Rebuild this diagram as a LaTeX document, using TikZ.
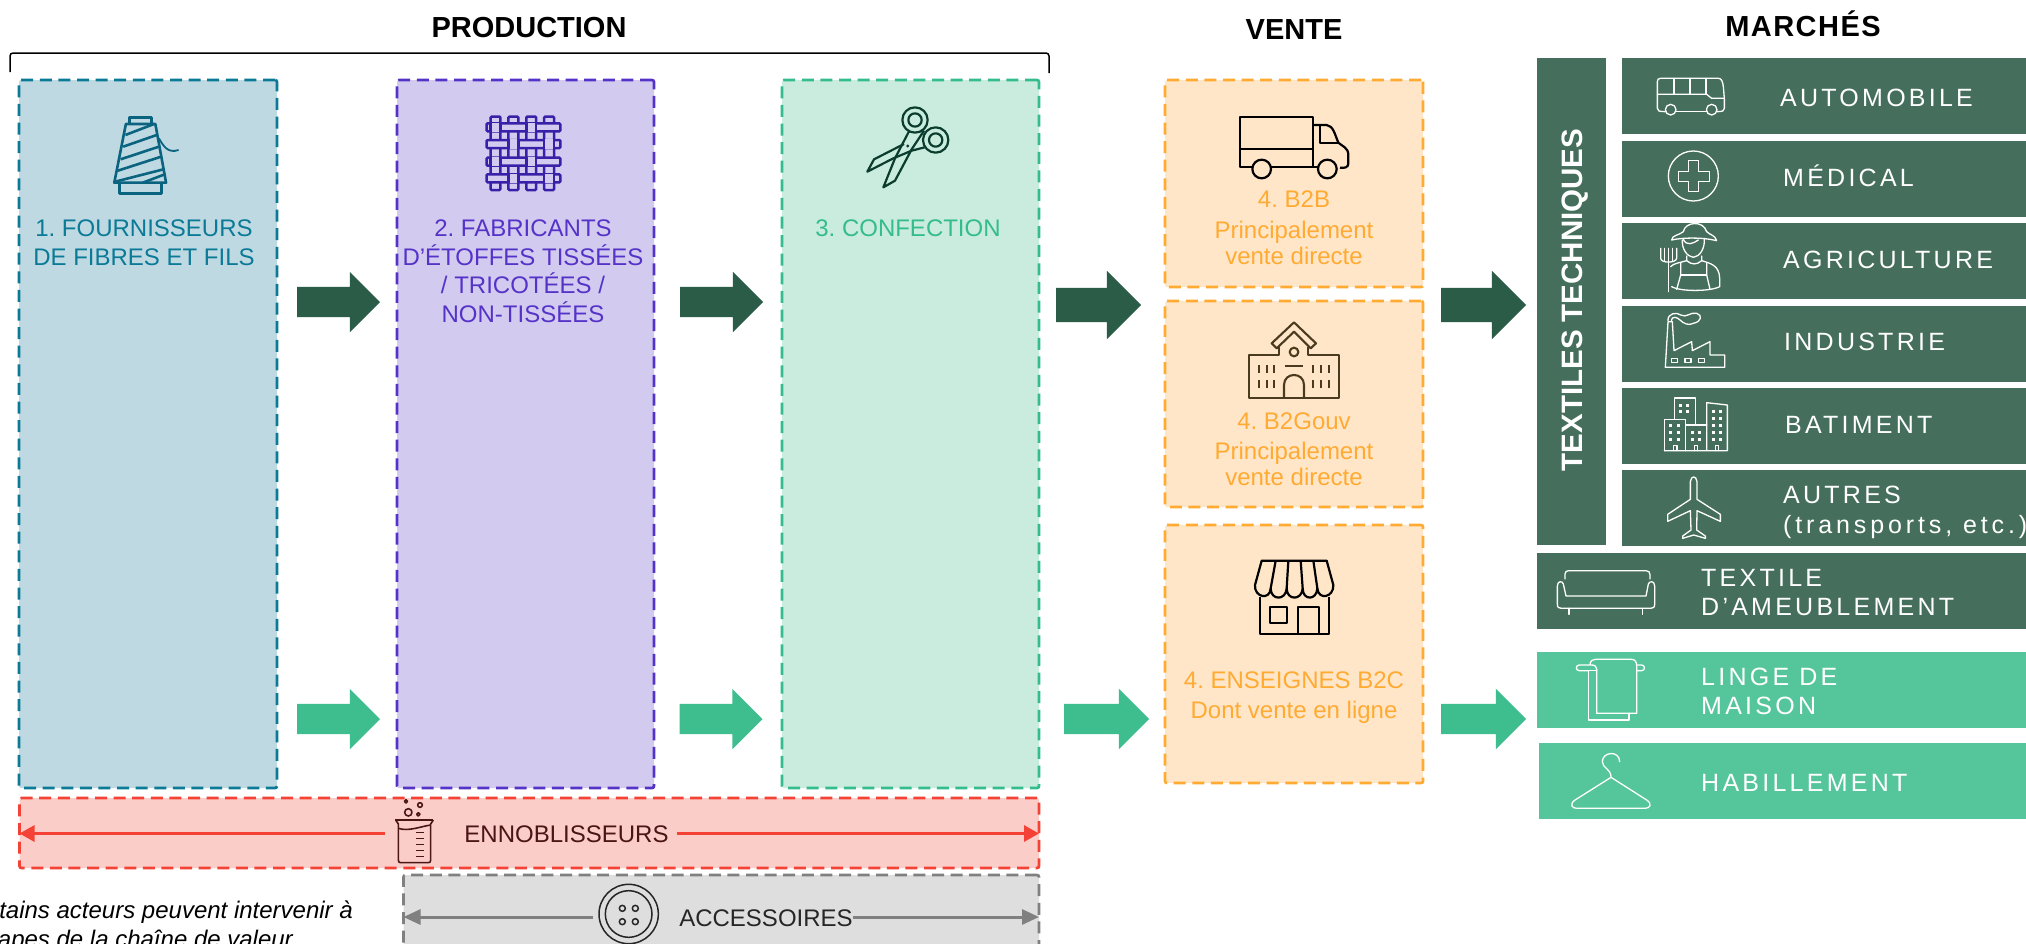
\documentclass[tikz,border=0pt]{standalone}
\usepackage{fontspec}
\setmainfont{Liberation Sans}
\newfontfamily\spaced[LetterSpace=13]{Liberation Sans}
\newfontfamily\spacedB[LetterSpace=15.5]{Liberation Sans}
\newfontfamily\headspaced[LetterSpace=5]{Liberation Sans}
\usetikzlibrary{shapes.arrows,arrows.meta}
\definecolor{blueF}{HTML}{BFD9E3}\definecolor{blueL}{HTML}{0B7A96}
\definecolor{purF}{HTML}{D3CBEF}\definecolor{purL}{HTML}{5533C8}
\definecolor{grnF}{HTML}{CAECDF}\definecolor{grnL}{HTML}{35BC8C}
\definecolor{orF}{HTML}{FFE6C8}\definecolor{orL}{HTML}{FFAB33}
\definecolor{redF}{HTML}{FBCDC9}\definecolor{redL}{HTML}{F44336}
\definecolor{gryF}{HTML}{DEDEDE}\definecolor{gryL}{HTML}{808080}
\definecolor{rowD}{HTML}{456F5C}\definecolor{rowL}{HTML}{55C69C}
\definecolor{arrD}{HTML}{2B5C47}\definecolor{arrL}{HTML}{3EBD8E}
\definecolor{spoolC}{HTML}{0A6480}\definecolor{weaveC}{HTML}{3A1FA8}
\definecolor{scisC}{HTML}{0B3D2E}\definecolor{schoolC}{HTML}{4A3A20}
\definecolor{redT}{HTML}{4A1515}
\frenchspacing
\newcommand\bx[6]{%
 \pgfmathsetmacro\bxw{#5-#3}\pgfmathsetmacro\bxh{#6-#4}%
 \pgfmathsetmacro\bxx{(#3+#5)/2}\pgfmathsetmacro\bxy{(#4+#6)/2}%
 \node[#2,minimum width=\bxw pt,minimum height=\bxh pt,inner sep=0pt,outer sep=0pt] (#1) at (\bxx,\bxy) {};}
\tikzset{
 dashbox/.style={draw=#1,line width=2.7pt,rounded corners=2pt,dash pattern=on 12pt off 6.6pt},
 fblue/.style={dashbox=blueL,fill=blueF},
 fpur/.style={dashbox=purL,fill=purF},
 fgrn/.style={dashbox=grnL,fill=grnF},
 fora/.style={dashbox=orL,fill=orF},
 fred/.style={dashbox=redL,fill=redF},
 fgry/.style={dashbox=gryL,fill=gryF},
 rowdark/.style={fill=rowD},
 rowlight/.style={fill=rowL},
 blockS/.style={single arrow,fill=#1,inner xsep=0pt,inner ysep=15pt,outer sep=0pt,single arrow head extend=15pt,single arrow tip angle=90,minimum height=83pt,anchor=tail},
 blockL/.style={single arrow,fill=#1,inner xsep=0pt,inner ysep=17pt,outer sep=0pt,single arrow head extend=17pt,single arrow tip angle=90,minimum height=85pt,anchor=tail},
 lbl/.style={font=\fontsize{24}{29}\selectfont,align=center,inner sep=0pt},
 head/.style={font=\fontsize{29}{34}\selectfont\bfseries,inner sep=0pt},
 rowtxt/.style={font=\fontsize{25}{29}\selectfont\spaced,text=white,align=left,inner sep=0pt,anchor=base west},
 crop/.style={shift={(#1)},x=0.33333pt,y=-0.33333pt},
 cropw/.style={shift={(#1)},x=0.44643pt,y=-0.33333pt},
 wic/.style={draw=white,line width=1.3pt,line join=round,line cap=round},
 kic/.style={draw=black,line width=2.2pt,line join=round},
}
\begin{document}
\begin{tikzpicture}[x=1pt,y=-1pt]
\useasboundingbox (0,0) rectangle (2026,943);
\fill[white] (0,0) rectangle (2026,943);
% headers
\node[head] (hprod) at (529,28) {PRODUCTION};
\node[head] (hvente) at (1294,30) {VENTE};
\node[head,font=\fontsize{29}{34}\selectfont\bfseries\headspaced] (hmarch) at (1803,24) {MARCHÉS};
\coordinate (brA) at (10,72); \coordinate (brB) at (10,53); \coordinate (brC) at (1049,53); \coordinate (brD) at (1049,73);
\draw[line width=1.5pt,rounded corners=3pt] (brA) -- (brB) -- (brC) -- (brD);
% main boxes
\bx{b1}{fblue}{19}{80}{277}{788}
\bx{b2}{fpur}{397}{80}{654}{788}
\bx{b3}{fgrn}{782}{80}{1039}{788}
\bx{s1}{fora}{1165}{80}{1423}{287}
\bx{s2}{fora}{1165}{301}{1423}{507}
\bx{s3}{fora}{1165}{525}{1423}{783}
\bx{ennob}{fred}{19.5}{798}{1039}{868}
\bx{acc}{fgry}{403.5}{875}{1039}{950}
% box text
\node[lbl,text=blueL,anchor=base] (t1) at (144,236) {1. FOURNISSEURS};
\node[lbl,text=blueL,anchor=base] (t1b) at (144,265.5) {DE FIBRES ET FILS};
\node[lbl,text=purL,anchor=base] (t2) at (523,236) {2. FABRICANTS};
\node[lbl,text=purL,anchor=base] (t2b) at (523,265.5) {D’ÉTOFFES TISSÉES};
\node[lbl,text=purL,anchor=base] (t2c) at (523,293.5) {/ TRICOTÉES /};
\node[lbl,text=purL,anchor=base] (t2d) at (523,322) {NON-TISSÉES};
\node[lbl,text=grnL,anchor=base] (t3) at (908,236) {3. CONFECTION};
\node[lbl,text=orL,anchor=base] (o1) at (1294,207.5) {4. B2B};
\node[lbl,text=orL,anchor=base] (o1b) at (1294,238.5) {Principalement};
\node[lbl,text=orL,anchor=base] (o1c) at (1294,264) {vente directe};
\node[lbl,text=orL,anchor=base] (o2) at (1294,429) {4. B2Gouv};
\node[lbl,text=orL,anchor=base] (o2b) at (1294,459) {Principalement};
\node[lbl,text=orL,anchor=base] (o2c) at (1294,485) {vente directe};
\node[lbl,text=orL,anchor=base] (o3) at (1294,688.5) {4. ENSEIGNES B2C};
\node[lbl,text=orL,anchor=base] (o3b) at (1294,718) {Dont vente en ligne};
% block arrows
\node[blockS=arrD] (ad1) at (297,302) {};
\node[blockS=arrD] (ad2) at (680,302) {};
\node[blockL=arrD] (ad3) at (1056,305) {};
\node[blockL=arrD] (ad4) at (1441,305) {};
\node[blockS=arrL] (al1) at (297,719) {};
\node[blockS=arrL] (al2) at (679.5,719) {};
\node[blockS=arrL,minimum height=85pt] (al3) at (1064,719) {};
\node[blockS=arrL,minimum height=85pt] (al4) at (1441,719) {};
% ennoblisseurs & accessoires
\node[lbl,text=redT,anchor=base] (tenn) at (566.5,842) {ENNOBLISSEURS};
\coordinate (beakL) at (385,833.5);
\draw[redL,line width=3pt,-{Triangle[length=15pt,width=16pt]}] (beakL) -- (beakL -| ennob.west);
\draw[redL,line width=3pt,-{Triangle[length=15pt,width=16pt]},shorten <=8pt] (tenn.east |- beakL) -- (beakL -| ennob.east);
\node[lbl,text=black!85,anchor=base] (tacc) at (766,926) {ACCESSOIRES};
\coordinate (butL) at (593,917);
\draw[gryL,line width=3pt,-{Triangle[length=17pt,width=15pt]}] (butL) -- (butL -| acc.west);
\draw[gryL,line width=3pt,-{Triangle[length=17pt,width=15pt]}] (tacc.east |- butL) -- (butL -| acc.east);
\node[lbl,font=\fontsize{24}{29}\selectfont\itshape,anchor=base east] (n1) at (353,918) {tains acteurs peuvent intervenir à};
\node[lbl,font=\fontsize{24}{29}\selectfont\itshape,anchor=base east] (n2) at (293,947) {apes de la chaîne de valeur};
% spool icon
\begin{scope}[cropw={0,0},draw=spoolC,line width=2.6pt,line join=round]
\draw (290,372) -- (290,352) -- (340,352) -- (340,372);
\draw (282,372) -- (348,372) -- (372,548) -- (256,548) -- cycle;
\draw (268,548) -- (268,580) -- (362,580) -- (362,548);
\draw (281,405) -- (345,372);
\draw (276,440) -- (351,405);
\draw (270,478) -- (356,440);
\draw (264,512) -- (361,470);
\draw (258,545) -- (366,508);
\draw (320,548) -- (371,522);
\draw[line width=1.8pt] (356,415) .. controls (365,435) and (375,462) .. (400,450);
\end{scope}
% weave icon
\begin{scope}[cropw={0,0},line width=2.5pt,draw=weaveC,fill=purF]
\foreach \vx in {1110,1150,1190,1230} \filldraw[rounded corners=1pt] ({\vx-11},350) rectangle ({\vx+11},570);
\foreach \hy in {382,432,485,535} \filldraw[rounded corners=1pt] (1090,{\hy-12}) rectangle (1255,{\hy+12});
\foreach \vx [count=\i] in {1110,1150,1190,1230} {
 \foreach \hy [count=\j] in {382,432,485,535} {
  \pgfmathparse{int(mod(\i+\j,2))}
  \ifnum\pgfmathresult=0
   \fill[purF] ({\vx-10},{\hy-14}) rectangle ({\vx+10},{\hy+14});
   \draw ({\vx-11},{\hy-14}) -- ({\vx-11},{\hy+14});
   \draw ({\vx+11},{\hy-14}) -- ({\vx+11},{\hy+14});
  \fi
 }
}
\end{scope}
% scissors
\begin{scope}[crop={780,60},draw=scisC,line width=2.2pt,line join=round]
\draw (405,180) circle[radius=38];
\draw (405,180) circle[radius=20];
\draw (467,240) circle[radius=38];
\draw (467,240) circle[radius=20];
\draw (388,212) -- (345,295) -- (310,382) -- (345,362) -- (395,268) -- (432,212);
\draw (434,262) -- (395,272) -- (340,295) -- (262,335) -- (282,298) -- (372,252);
\fill[scisC] (383,258) circle[radius=5];
\end{scope}
% truck
\begin{scope}[crop={1150,60},kic]
\draw[kic] (305,322) -- (270,322) -- (270,172) -- (488,172) -- (488,322);
\draw[kic] (270,266) -- (488,266);
\draw[kic] (364,322) -- (504,322);
\draw[kic] (335,327) circle[radius=28];
\draw[kic] (532,327) circle[radius=28];
\draw[kic] (488,195) -- (530,195) .. controls (550,197) and (555,225) .. (565,248) .. controls (575,258) and (595,262) .. (595,285) -- (595,310) .. controls (595,322) and (585,325) .. (570,323);
\draw[kic] (510,195) -- (510,248) -- (565,248);
\end{scope}
% school
\begin{scope}[crop={1150,60}]
\tikzset{sc/.style={draw=schoolC,line width=2.1pt,line join=round}}
\draw[sc] (365,850) -- (432,787) -- (498,850) -- (482,865) -- (432,815) -- (380,865) -- cycle;
\draw[sc] (388,860) -- (388,885) -- (296,885) -- (296,1015) -- (568,1015) -- (568,885) -- (475,885) -- (475,860);
\draw[sc] (432,876) circle[radius=13];
\draw[sc] (405,917) -- (458,917);
\draw[sc] (402,1015) -- (402,975) .. controls (402,935) and (462,935) .. (462,975) -- (462,1015);
\foreach \wx in {327,350,373,490,513,537} {
 \draw[sc] (\wx,915) -- (\wx,940);
 \draw[sc] (\wx,960) -- (\wx,985);
}
\end{scope}
% store
\begin{scope}[crop={1150,510}]
\draw[kic] (335,152) -- (530,152) -- (550,225) .. controls (552,262) and (505,272) .. (502,235) .. controls (500,272) and (458,272) .. (458,235) .. controls (456,272) and (410,272) .. (410,235) .. controls (408,272) and (362,272) .. (362,235) .. controls (360,272) and (312,262) .. (315,225) -- cycle;
\draw[kic] (377,152) -- (362,235); \draw[kic] (415,152) -- (410,235); \draw[kic] (452,152) -- (458,235); \draw[kic] (490,152) -- (502,235);
\draw[kic] (330,262) -- (330,372) -- (538,372) -- (538,262);
\draw[kic] (360,290) rectangle (412,340);
\draw[kic] (443,372) -- (443,290) -- (508,290) -- (508,372);
\end{scope}
% beaker and button
\begin{scope}[crop={280,640},draw=redT,line width=1.6pt,line join=round]
\draw (378,484) circle[radius=5]; \draw (420,495) circle[radius=7];
\draw (385,517) circle[radius=11]; \draw (415,523) circle[radius=5];
\draw (345,540) -- (460,540);
\draw (347,540) -- (355,552) -- (355,660) .. controls (355,666) and (358,668) .. (362,668) -- (445,668) .. controls (450,668) and (452,666) .. (452,660) -- (452,552) -- (460,540);
\draw (355,565) .. controls (385,575) and (420,560) .. (452,555);
\foreach \ty in {577,595,613,631,649} \draw (408,\ty) -- (433,\ty);
\end{scope}
\begin{scope}[crop={280,640},draw=black!85,line width=1.5pt]
\draw (1046,822) circle[radius=89];
\draw (1046,822) circle[radius=70];
\foreach \hx in {1027,1066} \foreach \hy in {805,845} \draw (\hx,\hy) circle[radius=9];
\end{scope}
% markets
\bx{tt}{rowdark}{1537}{58}{1606}{545}
\node[head,text=white,rotate=90,font=\fontsize{29.5}{34}\selectfont\bfseries] (ttt) at (1575,300) {TEXTILES TECHNIQUES};
\bx{r1}{rowdark}{1622}{58}{2026}{134}
\bx{r2}{rowdark}{1622}{141}{2026}{217}
\bx{r3}{rowdark}{1622}{223}{2026}{299}
\bx{r4}{rowdark}{1622}{306}{2026}{382}
\bx{r5}{rowdark}{1622}{388}{2026}{464}
\bx{r6}{rowdark}{1622}{470}{2026}{546}
\bx{r7}{rowdark}{1537}{553}{2026}{629}
\bx{r8}{rowlight}{1537}{652}{2026}{728}
\bx{r9}{rowlight}{1539}{743}{2026}{819}
\node[rowtxt] (l1) at (1780,106.5) {AUTOMOBILE};
\node[rowtxt] (l2) at (1783,186) {MÉDICAL};
\node[rowtxt] (l3) at (1783,268) {AGRICULTURE};
\node[rowtxt] (l4) at (1784,350) {INDUSTRIE};
\node[rowtxt] (l5) at (1785,433) {BATIMENT};
\node[rowtxt] (l6) at (1783,503) {AUTRES};
\node[rowtxt,font=\fontsize{25}{29}\selectfont\spacedB] (l6b) at (1783,533) {(transports, etc.)};
\node[rowtxt] (l7) at (1701,586) {TEXTILE};
\node[rowtxt] (l7b) at (1701,615) {D’AMEUBLEMENT};
\node[rowtxt] (l8) at (1701,685) {LINGE DE};
\node[rowtxt] (l8b) at (1701,714) {MAISON};
\node[rowtxt] (l9) at (1701,791) {HABILLEMENT};
% white icons, first crop
\begin{scope}[crop={1530,0}]
% bus
\draw[wic] (382,325) -- (382,245) .. controls (382,238) and (385,235) .. (392,235) -- (565,235) .. controls (575,235) and (578,245) .. (580,260) -- (583,295) -- (583,325) .. controls (583,332) and (578,335) .. (562,335);
\draw[wic] (382,325) .. controls (382,332) and (386,335) .. (406,335);
\draw[wic] (438,335) -- (529,335);
\draw[wic] (382,283) -- (530,283) -- (545,295) -- (583,295);
\foreach \bxv in {432,480,528} \draw[wic] (\bxv,235) -- (\bxv,283);
\draw[wic] (422,329) circle[radius=16]; \draw[wic] (545,329) circle[radius=16];
% medical
\draw[wic] (490,528) circle[radius=75];
\draw[wic] (475,482) -- (505,482) -- (505,515) -- (538,515) -- (538,545) -- (505,545) -- (505,575) -- (475,575) -- (475,545) -- (445,545) -- (445,515) -- (475,515) -- cycle;
% farmer
\draw[wic] (460,695) .. controls (465,665) and (520,660) .. (530,695);
\draw[wic] (460,695) .. controls (450,705) and (425,705) .. (425,720) .. controls (460,712) and (520,712) .. (560,722) .. controls (555,705) and (540,705) .. (530,695);
\draw[wic] (457,720) .. controls (455,745) and (470,770) .. (490,772) .. controls (510,770) and (525,745) .. (523,715);
\draw[wic] (460,718) .. controls (470,740) and (490,730) .. (505,720);
\draw[wic] (470,768) -- (470,782) .. controls (485,795) and (500,795) .. (515,782) -- (515,768);
\draw[wic] (470,782) .. controls (450,788) and (430,790) .. (422,800);
\draw[wic] (515,782) .. controls (540,790) and (568,795) .. (569,835) -- (569,860) .. controls (540,875) and (450,875) .. (425,860);
\draw[wic] (452,790) -- (452,825) -- (440,868);
\draw[wic] (530,790) -- (530,825) -- (540,868);
\draw[wic] (452,825) -- (530,825);
\draw[wic] (415,875) -- (415,745);
\draw[wic] (392,745) -- (392,775) .. controls (392,790) and (438,790) .. (440,775) -- (440,745);
\draw[wic] (403,745) -- (403,782); \draw[wic] (428,745) -- (428,782);
% factory
\draw[wic] (406,1102) -- (414,965) -- (427,965) -- (432,1052) -- (485,1025) -- (487,1052) -- (540,1025) -- (540,1065) -- (584,1065) -- (584,1102) -- cycle;
\draw[wic] (425,1075) rectangle (443,1087); \draw[wic] (465,1075) rectangle (483,1087); \draw[wic] (505,1075) rectangle (523,1087);
\draw[wic] (414,962) .. controls (412,940) and (440,935) .. (452,945) .. controls (470,955) and (480,935) .. (500,940) .. controls (518,945) and (515,965) .. (490,970) .. controls (475,978) and (460,970) .. (450,960) .. controls (440,950) and (425,948) .. (424,962);
\end{scope}
% white icons, second crop
\begin{scope}[crop={1530,380}]
% buildings
\draw[wic] (403,212) -- (403,118) -- (467,118) -- (467,212);
\draw[wic] (433,118) -- (433,54) -- (497,54) -- (497,135);
\draw[wic] (467,135) -- (530,135);
\draw[wic] (530,212) -- (530,68) -- (592,75) -- (592,212) -- (403,212);
\foreach \wx/\wy in {451/75,471/75,451/95,471/95,421/135,444/135,421/156,444/156,421/177,444/177,488/156,508/156,488/177,508/177,549/94,570/94,549/115,570/115,549/136,570/136,549/156,570/156,549/177,570/177}
 \fill[white] ({\wx-4},{\wy-4}) rectangle ({\wx+5},{\wy+5});
\foreach \wx in {436,498,561} \draw[wic] ({\wx-5},212) -- ({\wx-5},196) -- ({\wx+5},196) -- ({\wx+5},212);
% plane
\draw[wic] (481,358) -- (481,305) .. controls (483,286) and (499,286) .. (501,305) -- (501,358) -- (571,403) -- (571,424) -- (501,392) -- (500,450) -- (526,468) -- (526,475) -- (491,465) -- (458,475) -- (458,468) -- (483,450) -- (481,392) -- (413,424) -- (413,403) -- cycle;
% sofa
\draw[wic] (105,597) -- (105,582) .. controls (105,575) and (110,572) .. (116,572) -- (348,572) .. controls (356,572) and (360,577) .. (360,584) -- (360,597);
\draw[wic] (108,648) -- (100,612) .. controls (98,602) and (82,602) .. (82,618) -- (82,672) .. controls (82,682) and (86,685) .. (94,685) -- (362,685) .. controls (370,685) and (374,682) .. (374,672) -- (374,618) .. controls (374,602) and (358,602) .. (355,612) -- (348,648) -- cycle;
\draw[wic] (117,685) -- (117,703); \draw[wic] (338,685) -- (338,703);
% towel
\draw[wic] (180,855) .. controls (180,842) and (188,838) .. (196,838) -- (304,838) .. controls (315,838) and (320,845) .. (320,858) -- (320,1000) -- (200,1000) -- (200,868) .. controls (200,860) and (195,855) .. (185,855) -- (148,855) .. controls (136,855) and (136,872) .. (148,872) -- (175,872);
\draw[wic] (175,872) -- (175,1020) -- (297,1020) -- (297,1000);
\draw[wic] (175,872) -- (200,872);
\draw[wic] (320,855) -- (335,855) .. controls (346,855) and (346,872) .. (335,872) -- (320,872);
% hanger
\draw[wic] (269,1145) .. controls (268,1110) and (217,1115) .. (217,1145) .. controls (217,1165) and (243,1165) .. (243,1192);
\draw[wic] (243,1192) -- (350,1260) .. controls (368,1272) and (360,1285) .. (345,1285) -- (140,1285) .. controls (125,1285) and (118,1272) .. (135,1260) -- cycle;
\end{scope}
\end{tikzpicture}
\end{document}
